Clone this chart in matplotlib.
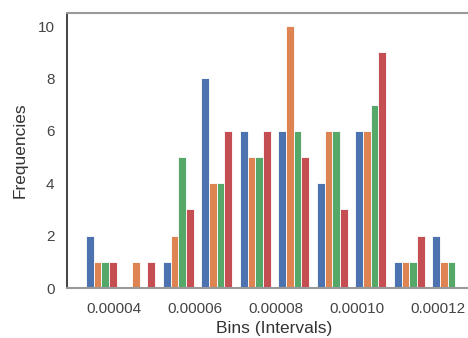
import matplotlib
matplotlib.use("Agg")
import matplotlib.pyplot as plt
import numpy as np

# Bin edges (data units) and per-bin counts for the four series
bin_start = 0.0000322
bin_width = 0.0000095
n_bins = 10
counts_blue = [2, 0, 1, 8, 6, 6, 4, 6, 1, 2]
counts_orange = [1, 1, 2, 4, 5, 10, 6, 6, 1, 1]
counts_green = [1, 0, 5, 4, 5, 6, 6, 7, 1, 1]
counts_red = [1, 1, 3, 6, 6, 5, 3, 9, 2, 0]
colors = ["#4C72B0", "#DD8452", "#55A868", "#C44E52"]
xticks = [0.00004, 0.00006, 0.00008, 0.00010, 0.00012]
xtick_labels = ["0.00004", "0.00006", "0.00008", "0.00010", "0.00012"]
yticks = [0, 2, 4, 6, 8, 10]

plt.rcParams['font.family'] = ['Liberation Sans', 'DejaVu Sans']

edges = bin_start + bin_width * np.arange(n_bins + 1)
centers = (edges[:-1] + edges[1:]) / 2

fig = plt.figure(figsize=(4.68, 3.38), dpi=100)
ax = fig.add_axes([67/468, 1 - 288/338, (482 - 67)/468, (288 - 13)/338])

data = [centers] * 4
weights = [counts_blue, counts_orange, counts_green, counts_red]
ax.hist(data, bins=edges, weights=weights, color=colors,
        edgecolor='white', linewidth=0.6)

ax.set_xticks(xticks)
ax.set_xticklabels(xtick_labels)
ax.set_yticks(yticks)
ax.tick_params(length=0, labelsize=11, labelcolor="#444444")
ax.tick_params(axis='x', pad=10)
ax.tick_params(axis='y', pad=9)
ax.set_xlabel("Bins (Intervals)", fontsize=12.5, color="#333333", labelpad=4)
ax.set_ylabel("Frequencies", fontsize=12.5, color="#333333", labelpad=7)

ax.spines['left'].set_color('#222222')
ax.spines['left'].set_linewidth(1.2)
for s in ['top', 'bottom']:
    ax.spines[s].set_color('#999999')
    ax.spines[s].set_linewidth(1.5)
ax.spines['right'].set_visible(False)

fig.savefig("out.png", dpi=100)
